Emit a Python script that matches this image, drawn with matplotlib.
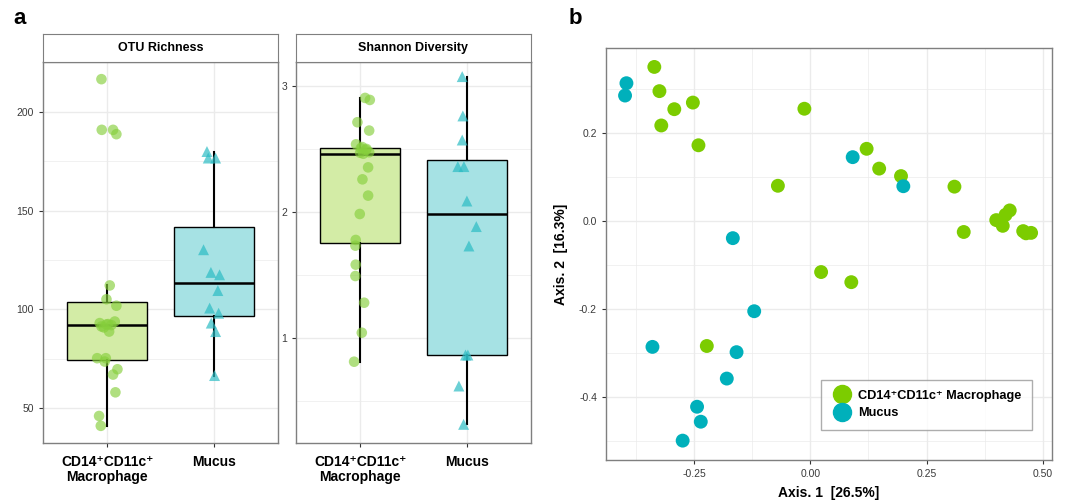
import numpy as np
import matplotlib
matplotlib.use("Agg")
import matplotlib.pyplot as plt
from matplotlib.lines import Line2D

plt.rcParams["font.family"] = ["Liberation Sans", "DejaVu Sans"]

GROUPS = ["CD14⁺CD11c⁺\nMacrophage", "Mucus"]
LEGEND_LABELS = ["CD14⁺CD11c⁺ Macrophage", "Mucus"]

# OTU richness + jitter offsets
otu_mac = [216.7, 191.0, 191.0, 188.8, 112.1, 105.1, 101.8, 93.8, 93.0, 92.3, 91.3, 88.7,
           75.2, 75.2, 73.5, 69.6, 66.9, 57.9, 45.9, 40.9, 90.8, 92.0, 92.5]
otu_mac_jit = [-0.053, -0.05, 0.056, 0.087, 0.025, -0.006, 0.087, 0.072, -0.069, -0.006, -0.053, 0.019,
               -0.093, -0.012, -0.022, 0.097, 0.056, 0.078, -0.075, -0.059, -0.03, 0.04, 0.01]
otu_muc = [180.0, 176.7, 176.7, 130.2, 118.7, 117.5, 109.5, 100.6, 98.0, 93.0, 88.7, 66.4]
otu_muc_jit = [-0.065, -0.053, 0.016, -0.097, -0.028, 0.053, 0.037, -0.040, 0.044, -0.025, 0.016, 0.006]

# Shannon diversity
sha_mac = [2.905, 2.889, 2.712, 2.646, 2.537, 2.505, 2.492, 2.474, 2.354, 2.259, 2.130, 1.984,
           1.778, 1.733, 1.582, 1.492, 1.280, 1.042, 0.812, 2.462, 2.470, 2.500, 2.515]
sha_mac_jit = [0.047, 0.091, -0.025, 0.085, -0.038, 0.006, 0.053, 0.085, 0.075, 0.022, 0.075, -0.003,
               -0.041, -0.044, -0.041, -0.044, 0.038, 0.016, -0.056, 0.03, 0.0, 0.06, 0.02]
sha_muc = [3.074, 2.762, 2.571, 2.360, 2.360, 2.087, 1.884, 1.730, 0.865, 0.865, 0.619, 0.315]
sha_muc_jit = [-0.044, -0.038, -0.044, -0.085, -0.028, 0.0, 0.088, 0.019, -0.013, 0.009, -0.075, -0.031]

# PCoA coordinates
pc_mac_x = [-0.336, -0.325, -0.321, -0.293, -0.253, -0.241, -0.013, -0.070, 0.121, 0.148, 0.195, 0.310,
            0.330, 0.023, 0.088, 0.400, 0.414, 0.420, 0.429, 0.458, 0.464, 0.475, -0.223]
pc_mac_y = [0.350, 0.295, 0.217, 0.254, 0.269, 0.172, 0.255, 0.080, 0.164, 0.119, 0.102, 0.078,
            -0.025, -0.116, -0.139, 0.002, -0.011, 0.014, 0.024, -0.023, -0.028, -0.027, -0.284]
pc_muc_x = [-0.396, -0.399, 0.091, 0.200, -0.167, -0.121, -0.340, -0.159, -0.180, -0.244, -0.236, -0.275]
pc_muc_y = [0.313, 0.285, 0.145, 0.079, -0.039, -0.205, -0.286, -0.298, -0.358, -0.422, -0.456, -0.499]

GREEN_BOX = "#d3eca6"
TEAL_BOX = "#a6e2e4"
GREEN_PT = "#86cf3c"
TEAL_PT = "#2cbcc4"
GREEN_B = "#7ccc00"
TEAL_B = "#00b0bb"
GRID = "#ebebeb"
BORDER = "#7f7f7f"

W, H = 1077, 500
fig = plt.figure(figsize=(W / 100, H / 100), dpi=100)


def frac(l, t, r, b):
    return [l / W, 1 - b / H, (r - l) / W, (b - t) / H]


def style_axes(ax):
    for s in ax.spines.values():
        s.set_color(BORDER)
        s.set_linewidth(1.0)
    ax.set_axisbelow(True)
    ax.grid(which="major", color=GRID, lw=1.0)
    ax.grid(which="minor", color=GRID, lw=0.5)
    ax.tick_params(which="major", length=3, color="#333333", labelsize=7.5, labelcolor="#3a3a3a")
    ax.tick_params(which="minor", length=0)


def strip(l, r, title):
    sax = fig.add_axes(frac(l, 34, r, 62))
    sax.set_xticks([])
    sax.set_yticks([])
    for s in sax.spines.values():
        s.set_color(BORDER)
    sax.text(0.5, 0.5, title, ha="center", va="center", fontsize=9, fontweight="bold")


def box_panel(ax, mac, mac_j, muc, muc_j, ylim, yticks, yminor):
    bp = ax.boxplot([mac, muc], positions=[1, 2], widths=0.75, patch_artist=True,
                    showfliers=False, showcaps=False, whis=1.5,
                    medianprops=dict(color="black", lw=1.8),
                    boxprops=dict(edgecolor="black", lw=1.0),
                    whiskerprops=dict(color="black", lw=1.5), zorder=2)
    bp["boxes"][0].set_facecolor(GREEN_BOX)
    bp["boxes"][1].set_facecolor(TEAL_BOX)
    ax.scatter(1 + np.array(mac_j), mac, s=58, marker="o", color=GREEN_PT, alpha=0.65,
               edgecolors="none", zorder=3)
    ax.scatter(2 + np.array(muc_j), muc, s=62, marker="^", color=TEAL_PT, alpha=0.7,
               edgecolors="none", zorder=3)
    ax.set_xlim(0.4, 2.6)
    ax.set_ylim(*ylim)
    ax.set_yticks(yticks)
    ax.set_yticks(yminor, minor=True)
    ax.set_xticks([1, 2])
    ax.set_xticklabels(GROUPS, fontsize=10, fontweight="bold", color="black", linespacing=1.05)
    style_axes(ax)
    ax.tick_params(axis="x", labelsize=10, labelcolor="black", pad=6)


# panel a: OTU richness
ax1 = fig.add_axes(frac(43, 62, 278, 443))
box_panel(ax1, otu_mac, otu_mac_jit, otu_muc, otu_muc_jit, (32.2, 225.4),
          [50, 100, 150, 200], [75, 125, 175])
strip(43, 278, "OTU Richness")

# panel a: Shannon diversity
ax2 = fig.add_axes(frac(296, 62, 531, 443))
box_panel(ax2, sha_mac, sha_mac_jit, sha_muc, sha_muc_jit, (0.167, 3.19),
          [1, 2, 3], [0.5, 1.5, 2.5])
strip(296, 531, "Shannon Diversity")

# panel b: PCoA
ax3 = fig.add_axes(frac(606, 48, 1052, 460))
ax3.scatter(pc_mac_x, pc_mac_y, s=100, color=GREEN_B, edgecolors="none", zorder=3)
ax3.scatter(pc_muc_x, pc_muc_y, s=100, color=TEAL_B, edgecolors="none", zorder=3)
ax3.set_xlim(-0.44, 0.52)
ax3.set_ylim(-0.543, 0.393)
ax3.set_xticks([-0.25, 0.0, 0.25, 0.50])
ax3.set_xticklabels(["-0.25", "0.00", "0.25", "0.50"])
ax3.set_xticks([-0.375, -0.125, 0.125, 0.375], minor=True)
ax3.set_yticks([-0.4, -0.2, 0.0, 0.2])
ax3.set_yticklabels(["-0.4", "-0.2", "0.0", "0.2"])
ax3.set_yticks([-0.5, -0.3, -0.1, 0.1, 0.3], minor=True)
style_axes(ax3)
ax3.set_xlabel("Axis. 1  [26.5%]", fontsize=10, fontweight="bold", labelpad=5)
ax3.set_ylabel("Axis. 2  [16.3%]", fontsize=10, fontweight="bold", labelpad=8)

handles = [Line2D([], [], marker="o", ls="none", color=c, markersize=13)
           for c in (GREEN_B, TEAL_B)]
leg = ax3.legend(handles, LEGEND_LABELS, loc="lower right", bbox_to_anchor=(0.969, 0.058),
                 frameon=True, fancybox=False, edgecolor="#999999", handletextpad=0.5,
                 handlelength=1.6, labelspacing=0.45, borderpad=0.8,
                 prop=dict(size=9.2, weight="bold"))

fig.text(20 / W, 1 - 18 / H, "a", fontsize=16, fontweight="bold", ha="center", va="center")
fig.text(575 / W, 1 - 18 / H, "b", fontsize=16, fontweight="bold", ha="center", va="center")

fig.savefig("out.png", dpi=100)
